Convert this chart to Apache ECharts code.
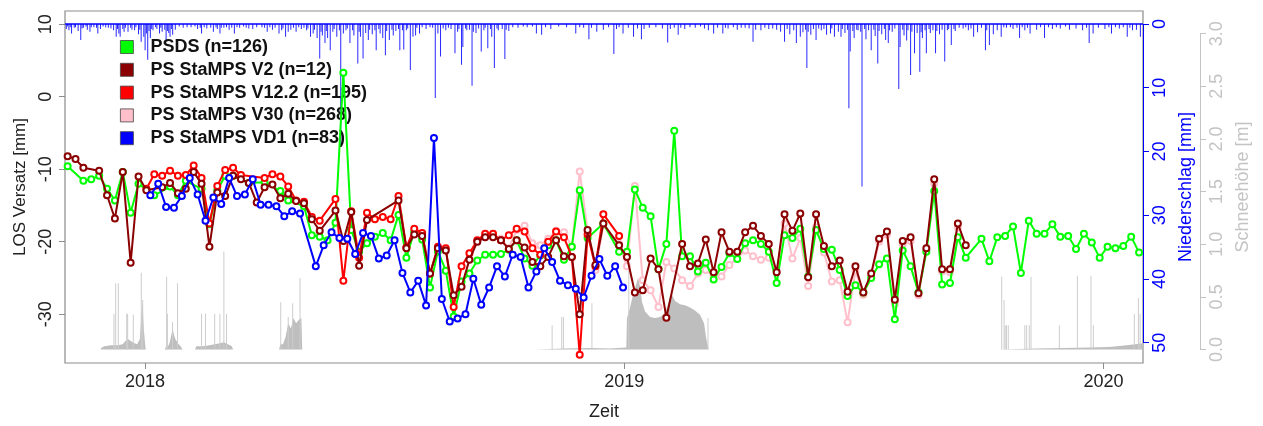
<!DOCTYPE html>
<html>
<head>
<meta charset="utf-8">
<script src="https://cdn.jsdelivr.net/npm/echarts@6/dist/echarts.min.js"></script>
<style>
  html, body { margin: 0; padding: 0; background: #fff; }
  #chart { width: 1263px; height: 426px; }
</style>
</head>
<body>
<div id="chart"></div>
<script>
// ---- time base -------------------------------------------------------------
const DAY = 86400000;
const T0 = Date.UTC(2017, 10, 1);          // day 0 of the day-offset arrays
const X_MAX = Date.UTC(2020, 0, 31);
const yearTicks = [Date.UTC(2018, 0, 1), Date.UTC(2019, 0, 1), Date.UTC(2020, 0, 1)];

// Sentinel-1 acquisitions, 6 day revisit
const REVISIT = 6;
const acqStartMain = Date.UTC(2017, 10, 3);   // PSDS, V2, V12.2, V30
const acqStartVD1 = Date.UTC(2017, 10, 6);    // VD1

// ---- LOS displacement [mm] per acquisition (null = no value) ---------------
const psds = [
  -9.6, null, -11.6, -11.4, -10.9, -12.7, -14.3, -10.4, -16.0, -12.0,
  null, -13.6, null, -12.4, -13.6, -11.6, null, -12.7, -17.6, -12.9,
  -10.9, -10.9, null, -11.9, null, -11.8, null, -13.0, -14.3, null,
  -15.1, -19.1, -19.3, -19.8, -17.4, 3.3, -18.4, -21.4, -20.2, -19.3,
  -18.8, -19.8, -16.3, -22.2, -18.6, -19.7, -26.3, -21.3, -24.0, -30.3,
  -25.5, -24.4, -22.6, -21.8, -21.8, -21.7, -21.1, -19.8, -22.3, -23.3,
  -21.9, -20.5, -19.8, -22.5, -20.7, -12.9, -19.5, null, -17.5, null,
  -21.4, -21.4, -12.8, -15.3, -16.5, -23.8, -20.3, -4.7, -22.0, -22.0,
  -24.1, -22.9, -25.2, -23.5, -21.6, -22.4, -20.2, -19.8, -20.3, -21.4,
  -25.7, -19.1, -19.5, -18.2, -24.8, -18.4, -21.0, -21.1, -23.9, -27.5,
  -26.0, -27.0, -25.0, -23.1, -22.3, -30.7, -21.2, -23.4, -27.0, -21.4,
  -13.0, -25.9, -25.7, -19.4, -22.2, null, -19.6, -22.7, -19.4, -19.2,
  -17.9, -24.3, -17.1, -18.9, -18.9, -17.6, -19.3, -19.2, -21.0, -18.9,
  -20.1, -22.2, -20.7, -20.9, -20.6, -19.3, -21.5
];
const stampsV2 = [
  -8.2, -8.6, -9.8, null, -10.2, -13.6, -16.8, -10.4, -22.9, -11.0,
  -12.9, null, -12.5, -11.9, -13.3, -12.7, -10.4, -12.0, -20.7, -13.2,
  -13.7, -10.9, -11.4, -11.9, -14.6, -12.5, -12.1, -14.0, -13.4, -14.4,
  -14.7, -16.9, -18.5, null, -15.7, -19.9, -15.9, -23.3, -17.0, null,
  null, null, -14.3, -20.9, -19.0, -19.2, -24.4, -20.9, -21.2, -27.4,
  -26.2, -22.5, -20.0, -19.4, -19.4, -19.8, -21.0, -19.8, -20.8, -22.8,
  -23.4, -22.1, -19.8, -22.0, -22.1, -30.0, -18.4, -23.2, -17.5, null,
  -20.5, -22.1, -27.0, -26.7, -22.3, -23.8, -30.5, null, -20.3, -23.4,
  -23.0, -19.7, -24.2, -18.7, -21.4, -21.4, -18.7, -17.8, -19.2, -20.3,
  -24.2, -16.2, -18.5, -16.1, -24.9, -16.2, -20.6, -23.4, -22.6, -26.9,
  -23.4, -27.0, -24.4, -19.6, -18.6, -28.0, -19.9, -19.4, -27.1, -20.9,
  -11.4, -23.8, -23.8, -17.5, -20.5
];
const stampsV12 = [
  null, null, null, null, null, null, null, null, null, null,
  -12.7, -10.7, -10.9, -10.2, -10.9, -10.8, -9.5, -11.2, -17.5, -12.3,
  -10.1, -9.8, -10.8, null, null, -11.2, -10.7, -11.0, -12.4, -14.3,
  -14.5, -16.6, -17.1, null, -14.1, -25.4, -15.8, -22.2, -16.0, -16.9,
  -16.6, -16.9, -13.7, -20.8, -18.2, -18.8, -24.4, -20.7, -20.9, -29.0,
  -23.4, -21.6, -19.8, -18.9, -18.9, -19.8, -19.1, -18.2, -18.6, -20.9,
  -21.8, -20.0, -18.6, -19.4, -22.1, -35.6, -19.0, -23.4, -16.2, null,
  -19.2
];
const stampsV30 = [
  null, null, null, null, null, null, null, null, null, null,
  null, null, null, null, null, null, null, null, null, null,
  null, null, null, null, null, null, null, null, null, null,
  null, null, null, null, null, null, null, null, null, null,
  null, null, null, null, null, null, null, null, null, null,
  null, null, -19.9, -19.0, -19.2, -19.6, -20.9, -18.4, -17.8, -20.2,
  -20.5, -19.6, -18.5, -18.7, -20.7, -10.3, -18.5, -23.9, -17.7, null,
  -20.3, -23.4, -12.3, -25.3, -26.7, -29.0, -22.8, -23.7, -25.3, -26.1,
  -24.4, -23.9, -24.8, -24.8, -23.2, -22.3, -21.2, -22.0, -22.5, -22.2,
  -24.1, -17.5, -22.3, -19.5, -26.1, -18.0, -21.5, -25.5, -25.3, -31.1,
  -24.0, -27.3, -24.8, -20.0, -19.0, -28.6, -20.3, -19.9, -27.4, -21.2,
  -12.0, -24.1, -24.2, -18.0
];
const stampsVD1 = [
  null, null, null, null, null, null, null, null, null, null,
  -13.6, -12.0, -15.2, -15.3, -13.7, -11.2, -13.5, -17.1, -13.9, -14.8,
  -11.2, -13.7, -13.5, -11.4, -14.9, -14.9, -15.1, -16.5, -15.8, -16.1,
  null, -23.4, -20.5, -18.7, -19.5, -19.6, -21.7, -18.8, -19.2, -22.3,
  -21.9, -19.8, -24.3, -27.0, -25.4, -28.8, -5.7, -27.9, -31.0, -30.6,
  -30.0, -25.1, -28.7, -26.3, -23.4, -24.8, -21.8, -22.1, -26.3, -24.1,
  -20.9, -22.8, -25.4, -26.0, -26.5, -27.7, -24.7, -22.4, -24.7, -23.4,
  -26.3
];

// ---- daily precipitation [mm] as [day since 2017-11-01, mm] ----------------
const precip = [
  [1,0.8],[2,0.4],[3,1.0],[4,0.5],[5,1.5],[7,0.6],[8,0.5],[10,1.1],[12,2.5],[13,0.7],[14,0.6],[16,0.4],
  [17,0.9],[19,1.2],[20,0.5],[22,0.5],[24,0.6],[25,1.5],[27,0.8],[29,0.4],[31,0.5],[33,0.6],[35,0.7],
  [37,1.0],[39,2.0],[40,0.8],[41,1.5],[42,2.0],[44,0.8],[45,1.2],[46,0.6],[48,1.2],[50,0.6],[51,0.9],
  [53,1.0],[54,0.5],[56,1.6],[57,0.9],[58,2.8],[60,2.0],[61,4.1],[62,1.5],[63,5.6],[64,1.1],[65,2.2],
  [66,0.8],[67,1.0],[69,0.5],[70,0.8],[72,1.5],[73,0.6],[74,1.2],[76,0.9],[77,2.5],[78,1.1],[79,1.4],
  [80,2.0],[81,0.8],[82,1.7],[84,0.9],[87,0.4],[90,0.6],[93,0.5],[96,0.5],[99,0.4],[101,0.8],[103,0.6],
  [104,1.5],[106,0.5],[108,0.7],[111,0.6],[113,1.2],[115,0.5],[116,0.8],[118,1.5],[119,0.6],[121,0.6],
  [123,0.5],[125,0.9],[127,0.6],[129,1.5],[131,0.5],[133,0.6],[136,0.4],[138,0.6],[140,0.7],[143,0.8],
  [146,0.5],[150,0.5],[152,0.6],[154,1.2],[156,0.5],[158,0.9],[160,0.6],[163,1.5],[165,1.0],[166,0.7],
  [168,2.0],[170,1.2],[172,0.9],[174,0.6],[176,1.2],[178,0.5],[180,0.8],[182,0.6],[184,1.0],[185,0.7],
  [187,2.0],[189,1.5],[190,0.9],[192,2.2],[194,5.4],[195,1.2],[196,1.8],[198,3.0],[199,1.1],[200,2.2],
  [202,4.1],[204,1.2],[205,0.8],[207,2.0],[209,1.0],[210,19.2],[212,1.5],[214,1.0],[215,0.7],[217,3.0],
  [219,1.0],[220,1.8],[223,6.2],[224,1.2],[225,2.0],[227,5.4],[229,1.4],[231,2.5],[232,0.9],[234,1.6],
  [236,1.0],[237,4.1],[239,0.8],[240,1.5],[242,2.2],[244,4.9],[245,1.1],[247,2.5],[249,0.9],[250,1.8],
  [252,1.1],[254,0.8],[255,4.1],[257,1.0],[258,4.0],[260,1.0],[261,0.7],[263,7.2],[265,2.0],[267,1.8],
  [268,0.6],[270,1.5],[272,0.5],[275,0.8],[278,0.5],[280,0.6],[282,11.6],[284,1.5],[286,5.1],[288,0.7],
  [290,1.0],[292,0.6],[294,0.8],[297,4.6],[299,1.2],[300,0.8],[302,6.4],[303,3.6],[305,0.7],[306,1.0],
  [308,0.9],[310,9.7],[311,1.2],[313,1.4],[315,0.7],[317,4.3],[319,1.0],[320,0.6],[322,3.8],[324,0.8],
  [325,2.0],[327,6.9],[329,0.7],[330,1.0],[333,0.8],[335,5.5],[336,0.9],[338,1.1],[341,0.5],[345,0.6],
  [349,0.4],[352,0.5],[356,0.4],[359,1.5],[363,1.7],[366,0.5],[370,0.8],[376,0.4],[382,0.5],[389,1.5],
  [392,0.5],[395,0.6],[399,2.4],[401,0.6],[405,1.2],[410,0.9],[414,0.5],[418,4.7],[420,0.8],[422,0.5],
  [425,1.5],[429,0.6],[433,2.0],[436,0.7],[439,2.4],[441,0.8],[445,0.6],[450,0.5],[455,0.7],[459,2.9],
  [461,0.8],[464,0.6],[467,1.7],[469,0.6],[472,0.8],[476,0.5],[480,0.6],[484,0.4],[487,0.7],[490,1.0],
  [494,1.5],[497,0.6],[501,1.5],[503,0.6],[505,0.7],[509,0.5],[512,0.9],[515,0.6],[518,0.6],[521,0.7],
  [524,2.8],[526,0.9],[530,1.0],[533,0.6],[536,0.8],[539,0.7],[542,0.9],[545,1.2],[548,2.8],[550,0.8],
  [552,1.6],[555,1.0],[557,3.0],[560,2.0],[562,1.3],[564,0.9],[565,6.9],[566,1.2],[568,1.7],[570,0.8],
  [572,2.5],[574,0.7],[576,1.0],[578,0.8],[580,1.7],[583,1.5],[584,0.7],[586,2.0],[589,1.2],[591,2.0],
  [592,0.8],[594,1.4],[596,0.9],[597,13.2],[598,4.3],[600,1.1],[601,2.2],[603,0.9],[604,1.0],[606,1.2],
  [607,25.5],[609,0.8],[610,2.4],[612,1.0],[614,4.1],[616,0.9],[617,1.9],[619,6.2],[620,1.1],[622,1.6],
  [624,0.8],[625,2.5],[627,3.0],[628,1.0],[630,1.2],[632,0.7],[635,10.2],[636,3.6],[638,0.9],[639,1.8],
  [641,2.6],[642,1.0],[644,8.0],[645,1.2],[647,4.6],[649,1.4],[651,7.5],[652,1.3],[653,2.2],[655,1.0],
  [656,4.6],[658,0.8],[659,1.4],[661,1.0],[663,4.6],[664,1.1],[666,1.6],[668,0.9],[670,5.9],[672,1.0],
  [673,0.8],[675,3.3],[677,0.8],[678,1.1],[681,0.6],[684,0.7],[686,0.5],[688,1.0],[690,0.7],[692,2.0],
  [695,1.3],[698,0.6],[701,4.1],[702,1.0],[704,3.3],[707,1.6],[710,1.0],[713,2.0],[715,0.5],[717,0.6],
  [720,0.5],[722,0.8],[725,0.6],[727,2.2],[729,0.5],[731,1.0],[733,0.6],[735,1.5],[740,0.9],[743,0.5],
  [746,2.2],[749,0.5],[752,0.8],[755,0.5],[758,0.7],[762,0.4],[765,0.9],[770,0.7],[775,1.0],[778,0.6],
  [780,3.0],[783,1.5],[787,0.6],[792,0.8],[795,0.5],[797,1.5],[800,0.5],[803,0.7],[806,0.5],[809,2.0],
  [811,0.6],[813,1.0],[816,0.9],[819,2.0]
];

// ---- snow depth [m] as [day since 2017-11-01, m] ---------------------------
const snowWinter1718 = [[27,0],[28,0.02],[30,0.03],[35,0.04],[40,0.04],[44,0.05],[46,0.08],[48,0.1],
  [50,0.08],[53,0.06],[55,0.05],[57,0.1],[58,0.3],[59,0.45],[60,0.2],[61,0.05],[61.5,0]];
const snowFeb18 = [[76,0],[77,0.03],[79,0.04],[80,0.08],[81,0.14],[82,0.2],[83,0.14],[84,0.1],
  [86,0.06],[88,0.03],[89.5,0]];
const snowApr18 = [[99,0],[100,0.03],[105,0.03],[110,0.04],[114,0.05],[118,0.06],[121,0.07],
  [124,0.05],[127,0.03],[128,0]];
const snowMay18 = [[163,0],[164,0.05],[166,0.05],[168,0.12],[170,0.25],[172,0.2],[174,0.3],
  [176,0.25],[178,0.28],[180,0.3],[180.7,0]];
const snowWinter1819 = [[358,0],[359,0.01],[380,0.01],[400,0.015],[415,0.01],[427.5,0.02],
  [428,0.30],[430,0.38],[432.6,0.52],[435,0.62],[436.4,0.68],[438,0.6],[439.5,0.45],[441.8,0.36],
  [445.6,0.31],[449.4,0.3],[453.2,0.31],[456.2,0.34],[458.5,0.4],[460.8,0.5],[462.3,0.52],
  [464.6,0.46],[468.4,0.43],[472.2,0.42],[476,0.4],[479.8,0.37],[483.6,0.33],[486.7,0.25],
  [488.2,0.12],[489.7,0.03],[490,0]];
const snowWinter1920 = [[712,0],[713,0.01],[740,0.01],[760,0.015],[780,0.02],[795,0.025],
  [805,0.035],[812,0.045],[818,0.055],[821,0.06]];
const snowSpikes = [
  [37.3,0.34],[38.6,0.63],[40.6,0.63],[47,0.34],[47.7,0.34],[52,0.33],[58.1,0.73],[59.2,0.47],
  [77.4,0.69],[78,0.34],[81.9,0.26],[85.7,0.63],
  [104,0.34],[107,0.34],[114,0.34],[118,0.34],[121,0.93],[123,0.34],
  [164.3,0.45],[170,0.31],[173.4,0.44],[179,0.68],
  [371,0.23],[378.3,0.31],[379.6,0.31],[401.3,0.44],[429.4,1.02],[489.7,0.3],
  [713.4,0.69],[715.2,0.47],[716,0.23],[717,0.23],[718.4,0.23],[731,0.23],[732.4,0.23],
  [734.4,0.23],[735.7,0.69],[757.3,0.23],[771,0.7],[781.4,0.7],[783.2,0.23],
  [814.4,0.34],[817.5,0.49],[818.8,0.34]
];

// ---- axis tick values -------------------------------------------------------
const losTicks = [-30, -20, -10, 0, 10];
const precipTicks = [0, 10, 20, 30, 40, 50];
const snowTicks = [0, 0.5, 1, 1.5, 2, 2.5, 3];

// ---- helpers ----------------------------------------------------------------
const atDay = (d) => T0 + d * DAY;
const dayPairs = (arr) => arr.map(([d, v]) => [atDay(d), v]);
const acqPairs = (start, vals) =>
  vals.map((v, i) => [start + i * REVISIT * DAY, v]).filter((p) => p[1] !== null);

const FONT = '"Liberation Sans", Arial, Helvetica, sans-serif';
const BLUE = '#0000ff';
const SNOW = '#bebebe';
const SNOW_AXIS = '#c4c4c4';
const WIDTH = 1263;
const GRID_LEFT = 65, GRID_RIGHT = 120, SNOW_AXIS_OFFSET = 57;

function psSeries(name, color, data, z) {
  return {
    name, type: 'line', yAxisIndex: 0, data, z,
    symbol: 'emptyCircle', symbolSize: 6, showSymbol: true,
    lineStyle: { color, width: 2 },
    itemStyle: { color, borderColor: color, borderWidth: 1.8 },
    emphasis: { disabled: true }, animation: false
  };
}
function snowArea(data) {
  return {
    type: 'line', yAxisIndex: 2, data: dayPairs(data), symbol: 'none', z: 1,
    lineStyle: { width: 0 }, areaStyle: { color: SNOW, opacity: 1 },
    silent: true, animation: false
  };
}
const legendItem = (name, color) => ({ name, itemStyle: { color, borderColor: '#444', borderWidth: 0.8 } });

const chart = echarts.init(document.getElementById('chart'), null, { renderer: 'canvas' });

chart.setOption({
  animation: false,
  backgroundColor: '#fff',
  textStyle: { fontFamily: FONT },
  grid: {
    left: GRID_LEFT, right: GRID_RIGHT, top: 11, bottom: 63,
    show: true, borderColor: '#8c8c8c', borderWidth: 1.2, backgroundColor: 'transparent'
  },
  legend: {
    orient: 'vertical', left: 115, top: 33,
    itemWidth: 13, itemHeight: 13, itemGap: 4.8, icon: 'rect',
    selectedMode: false,
    textStyle: { fontFamily: FONT, fontSize: 18, fontWeight: 'bold', color: '#111', padding: [0, 0, 0, 12] },
    data: [
      legendItem('PSDS (n=126)', '#00ff00'),
      legendItem('PS StaMPS V2 (n=12)', '#8b0000'),
      legendItem('PS StaMPS V12.2 (n=195)', '#ff0000'),
      legendItem('PS StaMPS V30 (n=268)', '#ffc0cb'),
      legendItem('PS StaMPS VD1 (n=83)', '#0000ff')
    ]
  },
  xAxis: {
    type: 'value', min: T0, max: X_MAX,
    name: 'Zeit', nameLocation: 'middle', nameGap: 40,
    nameTextStyle: { fontFamily: FONT, fontSize: 18, color: '#222' },
    axisLine: { show: false, onZero: false },
    axisTick: { show: true, customValues: yearTicks, length: 6, lineStyle: { color: '#8c8c8c' } },
    axisLabel: {
      customValues: yearTicks, margin: 10, fontSize: 18, color: '#222', fontFamily: FONT,
      formatter: (v) => String(new Date(v).getUTCFullYear())
    },
    splitLine: { show: false }
  },
  yAxis: [
    {
      type: 'value', position: 'left', min: -36.73, max: 11.82,
      name: 'LOS Versatz [mm]', nameLocation: 'middle', nameRotate: 90, nameGap: 34,
      nameTextStyle: { fontFamily: FONT, fontSize: 17, color: '#222' },
      axisLine: { show: false, onZero: false },
      axisTick: { show: true, customValues: losTicks, length: 6, lineStyle: { color: '#8c8c8c' } },
      axisLabel: { customValues: losTicks, rotate: 90, margin: 10, fontSize: 18, color: '#222', fontFamily: FONT },
      splitLine: { show: false }
    },
    {
      type: 'value', position: 'right', offset: 0, inverse: true, min: -2.04, max: 53.19,
      name: 'Niederschlag [mm]', nameLocation: 'middle', nameRotate: 90, nameGap: 32,
      nameTextStyle: { fontFamily: FONT, fontSize: 18, color: BLUE },
      axisLine: { show: false, onZero: false },
      axisTick: { show: true, customValues: precipTicks, length: 6, lineStyle: { color: BLUE } },
      axisLabel: { customValues: precipTicks, rotate: 90, margin: 8, fontSize: 18, color: BLUE, fontFamily: FONT },
      splitLine: { show: false }
    },
    {
      type: 'value', position: 'right', offset: SNOW_AXIS_OFFSET, min: -0.128, max: 3.215,
      name: 'Schneehöhe [m]', nameLocation: 'middle', nameRotate: 90, nameGap: 33,
      nameTextStyle: { fontFamily: FONT, fontSize: 18, color: SNOW_AXIS },
      axisLine: { show: false, onZero: false },
      axisTick: { show: true, customValues: snowTicks, length: 6, lineStyle: { color: SNOW_AXIS } },
      axisLabel: {
        customValues: snowTicks, rotate: 90, margin: 8, fontSize: 18, color: SNOW_AXIS, fontFamily: FONT,
        formatter: (v) => v.toFixed(1)
      },
      splitLine: { show: false }
    }
  ],
  series: [
    // snow depth
    snowArea(snowWinter1718), snowArea(snowFeb18), snowArea(snowApr18), snowArea(snowMay18),
    snowArea(snowWinter1819), snowArea(snowWinter1920),
    {
      type: 'bar', yAxisIndex: 2, data: dayPairs(snowSpikes), barWidth: 1, barGap: '-100%', z: 1,
      itemStyle: { color: '#cdcdcd' }, silent: true, animation: false
    },
    // precipitation, hanging from the top
    {
      type: 'bar', yAxisIndex: 1, data: dayPairs(precip), barWidth: 1, barGap: '-100%', z: 2,
      itemStyle: { color: 'rgba(0,0,255,0.85)' }, silent: true, animation: false,
      markLine: {
        silent: true, symbol: 'none', animation: false, label: { show: false },
        lineStyle: { color: BLUE, width: 1.5, type: 'solid' },
        data: [{ yAxis: 0 }]
      }
    },
    // displacement time series
    psSeries('PS StaMPS V30 (n=268)', '#ffc0cb', acqPairs(acqStartMain, stampsV30), 4),
    psSeries('PSDS (n=126)', '#00ff00', acqPairs(acqStartMain, psds), 5),
    psSeries('PS StaMPS V12.2 (n=195)', '#ff0000', acqPairs(acqStartMain, stampsV12), 6),
    psSeries('PS StaMPS V2 (n=12)', '#8b0000', acqPairs(acqStartMain, stampsV2), 7),
    psSeries('PS StaMPS VD1 (n=83)', '#0000ff', acqPairs(acqStartVD1, stampsVD1), 8)
  ]
});

// Axis lines of the two right-hand scales only span their labelled range
// (0–50 mm and 0–3 m); their ends are taken from the axes themselves.
const rightX = WIDTH - GRID_RIGHT;
const span = (axisIndex, from, to, x, color) => ({
  type: 'line', silent: true, z: 10,
  shape: {
    x1: x, y1: chart.convertToPixel({ yAxisIndex: axisIndex }, from),
    x2: x, y2: chart.convertToPixel({ yAxisIndex: axisIndex }, to)
  },
  style: { stroke: color, lineWidth: 1 }
});
chart.setOption({
  graphic: [
    span(1, precipTicks[0], precipTicks[precipTicks.length - 1], rightX + 0.5, BLUE),
    span(2, snowTicks[0], snowTicks[snowTicks.length - 1], rightX + SNOW_AXIS_OFFSET + 0.5, SNOW_AXIS)
  ]
});
</script>
</body>
</html>
